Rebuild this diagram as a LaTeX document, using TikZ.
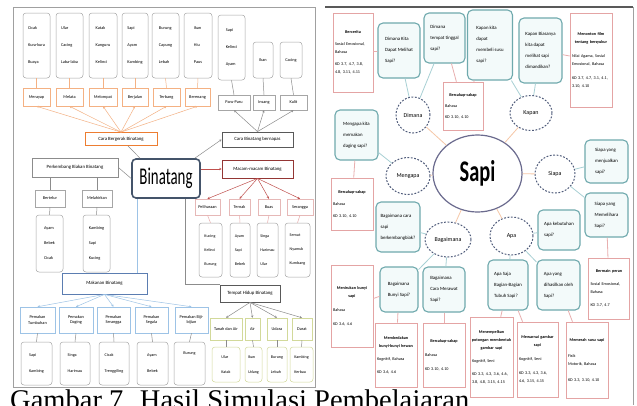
\documentclass[tikz,border=0pt]{standalone}
\usepackage{fontspec}
\usepackage{graphicx}
\setmainfont{Carlito}
\newfontfamily\capfont{Liberation Serif}
\usetikzlibrary{arrows.meta,shapes.geometric}
\definecolor{exgray}{HTML}{A6A6A6}
\definecolor{lblor}{HTML}{F4B183}
\definecolor{cbor}{HTML}{ED7D31}
\definecolor{dkgray}{HTML}{595959}
\definecolor{maroonc}{HTML}{943634}
\definecolor{pinkl}{HTML}{E6B8B7}
\definecolor{binblue}{HTML}{44546A}
\definecolor{mkblue}{HTML}{5B7DB1}
\definecolor{pmblue}{HTML}{9DC3E6}
\definecolor{tsub}{HTML}{D2D99A}
\definecolor{framec}{HTML}{A0A0A0}
\definecolor{qteal}{HTML}{6FA9AD}
\definecolor{qfill}{HTML}{F3FAFA}
\definecolor{actpink}{HTML}{E4A4A4}
\definecolor{ellc}{HTML}{4F5B7A}
\definecolor{sapic}{HTML}{6B6B8E}
\definecolor{lnpeach}{HTML}{F6C7A7}
\definecolor{lnteal}{HTML}{A8D0D4}
\definecolor{lnpink}{HTML}{E8AFAF}
\definecolor{lnred}{HTML}{C0504D}
\definecolor{lngray}{HTML}{8C8C8C}
\definecolor{lnyel}{HTML}{C4BD97}
\newcommand\acttl[1]{\makebox[\linewidth][c]{\bfseries #1}}
\tikzset{
  base/.style={inner sep=1pt, align=left},
  exbox/.style={base, draw=exgray, rounded corners=3pt, line width=0.5pt},
  lbl/.style={inner sep=1pt, align=center, line width=0.5pt, font=\fontsize{4.3}{5.2}\selectfont},
  tip/.style={-{Stealth[length=2.4pt,width=2.4pt]}},
  qbox/.style={draw=qteal, fill=qfill, line width=1.1pt, rounded corners=5pt, inner sep=2pt, align=left, font=\fontsize{4.8}{11}\selectfont},
  actbox/.style={draw=actpink, line width=0.6pt, inner sep=2pt, align=left, font=\fontsize{4.2}{8}\selectfont},
  ell/.style={ellipse, draw=ellc, line width=1pt, dash pattern=on 1.8pt off 1.6pt, inner sep=0pt, font=\fontsize{6}{7}\selectfont},
}
\begin{document}
\begin{tikzpicture}[x=1pt,y=-1pt]
\useasboundingbox (0,0) rectangle (637,405);
\clip (0,0) rectangle (637,405);
\fill[white] (0,0) rectangle (637,405);

% ================= LEFT PANEL =================
\draw[framec, line width=0.8pt] (13,7) rectangle (315,387);

% top example boxes
\begin{scope}[every node/.append style={font=\fontsize{4.3}{17}\selectfont}]
\node[exbox, minimum width=27, minimum height=65] (ex1) at (36.5,45.5) {Cicak\\Kura-kura\\Buaya};
\node[exbox, minimum width=27, minimum height=65] (ex2) at (69.5,45.5) {Ular\\Cacing\\Laba-laba};
\node[exbox, minimum width=28, minimum height=65] (ex3) at (103,45.5) {Katak\\Kanguru\\Kelinci};
\node[exbox, minimum width=26, minimum height=65] (ex4) at (135,45.5) {Sapi\\Ayam\\Kambing};
\node[exbox, minimum width=27, minimum height=65] (ex5) at (165.5,45.5) {Burung\\Capung\\Lebah};
\node[exbox, minimum width=28, minimum height=65] (ex6) at (198,45.5) {Ikan\\Hiu\\Paus};
\node[exbox, minimum width=27, minimum height=65] (ex7) at (231.5,47.5) {Sapi\\Kelinci\\Ayam};
\end{scope}
\node[exbox, minimum width=20, minimum height=36, font=\fontsize{4.3}{5}\selectfont] (ex8) at (263,60) {Ikan};
\node[exbox, minimum width=22, minimum height=36, font=\fontsize{4.3}{5}\selectfont] (ex9) at (291,60) {Cacing};

% movement labels
\node[lbl, draw=lblor, minimum width=27, minimum height=18] (l1) at (36.5,97) {Merayap};
\node[lbl, draw=lblor, minimum width=27, minimum height=18] (l2) at (69.5,97) {Melata};
\node[lbl, draw=lblor, minimum width=28, minimum height=18] (l3) at (103,97) {Melompat};
\node[lbl, draw=lblor, minimum width=26, minimum height=18] (l4) at (135,97) {Berjalan};
\node[lbl, draw=lblor, minimum width=27, minimum height=18] (l5) at (166.5,97) {Terbang};
\node[lbl, draw=lblor, minimum width=25, minimum height=18] (l6) at (197.5,97) {Berenang};
% breathing labels
\node[lbl, draw=exgray, minimum width=32, minimum height=15] (l7) at (234,102.5) {Paru-Paru};
\node[lbl, draw=exgray, minimum width=22, minimum height=15] (l8) at (264,102.5) {Insang};
\node[lbl, draw=exgray, minimum width=27, minimum height=15] (l9) at (293.5,102.5) {Kulit};

% main category boxes
\node[lbl, draw=cbor, line width=0.8pt, minimum width=72, minimum height=13, font=\fontsize{4.8}{5.5}\selectfont] (cb) at (121,139) {Cara Bergerak Binatang};
\node[lbl, draw=dkgray, line width=0.8pt, minimum width=71, minimum height=15, font=\fontsize{4.8}{5.5}\selectfont] (cn) at (257.5,139.5) {Cara Binatang bernapas};
\node[lbl, draw=maroonc, line width=0.8pt, minimum width=71, minimum height=18, font=\fontsize{4.8}{5.5}\selectfont] (mm) at (257.5,169) {Macam-macam Binatang};
\node[lbl, draw=lngray, line width=0.8pt, minimum width=86, minimum height=19, font=\fontsize{4.8}{5.5}\selectfont] (pk) at (75,167.5) {Perkembang Biakan Binatang};
\node[lbl, draw=binblue, line width=1.6pt, rounded corners=4pt, minimum width=68, minimum height=39, font=\fontsize{24}{26}\selectfont] (bin) at (166,178.5) {\scalebox{0.62}[1]{Binatang}};

% reproduction
\node[lbl, draw=exgray, minimum width=30, minimum height=17] (bt) at (50,198.5) {Bertelur};
\node[lbl, draw=exgray, minimum width=30, minimum height=17] (ml) at (97,198.5) {Melahirkan};
\node[exbox, minimum width=27, minimum height=57, font=\fontsize{4.3}{15}\selectfont] (ex10) at (49.5,243.5) {Ayam\\Bebek\\Cicak};
\node[exbox, minimum width=27, minimum height=57, font=\fontsize{4.3}{15}\selectfont] (ex11) at (96.5,243.5) {Kambing\\Sapi\\Kucing};

% kinds
\node[lbl, draw=pinkl, minimum width=25, minimum height=16] (s1) at (207.5,207) {Peliharaan};
\node[lbl, draw=pinkl, minimum width=21, minimum height=16] (s2) at (239.5,207) {Ternak};
\node[lbl, draw=pinkl, minimum width=22, minimum height=16] (s3) at (269,207) {Buas};
\node[lbl, draw=pinkl, minimum width=26, minimum height=16] (s4) at (300,207) {Serangga};
\begin{scope}[every node/.append style={font=\fontsize{4.1}{14}\selectfont}]
\node[exbox, minimum width=23, minimum height=54] (ex12) at (210.5,250) {Kucing\\Kelinci\\Burung};
\node[exbox, minimum width=20, minimum height=54] (ex13) at (240,250) {Ayam\\Sapi\\Bebek};
\node[exbox, minimum width=21, minimum height=54] (ex14) at (267.5,250) {Singa\\Harimau\\Ular};
\node[exbox, minimum width=25, minimum height=54] (ex15) at (297.5,250) {Semut\\Nyamuk\\Kumbang};
\end{scope}

% food
\node[lbl, draw=mkblue, line width=0.8pt, minimum width=85, minimum height=21, font=\fontsize{4.8}{5.5}\selectfont] (mk) at (104.5,283.5) {Makanan Binatang};
\begin{scope}[every node/.append style={font=\fontsize{4.2}{8}\selectfont}]
\node[lbl, draw=pmblue, minimum width=35, minimum height=26] (p1) at (37.5,320) {Pemakan\\Tumbuhan};
\node[lbl, draw=pmblue, minimum width=34, minimum height=26] (p2) at (76,320) {Pemakan\\Daging};
\node[lbl, draw=pmblue, minimum width=33, minimum height=26] (p3) at (113.5,320) {Pemakan\\Serangga};
\node[lbl, draw=pmblue, minimum width=33, minimum height=26] (p4) at (151.5,320) {Pemakan\\Segala};
\node[lbl, draw=pmblue, minimum width=33, minimum height=26] (p5) at (191.5,320) {Pemakan Biji-\\bijian};
\end{scope}
\begin{scope}[every node/.append style={font=\fontsize{4.2}{16}\selectfont}]
\node[exbox, minimum width=31, minimum height=43] (ex16) at (36.5,363.5) {Sapi\\Kambing};
\node[exbox, minimum width=30, minimum height=43] (ex17) at (75,363.5) {Singa\\Harimau};
\node[exbox, minimum width=30, minimum height=43] (ex18) at (114,363.5) {Cicak\\Trenggiling};
\node[exbox, minimum width=31, minimum height=43] (ex19) at (152.5,363.5) {Ayam\\Bebek};
\node[exbox, minimum width=31, minimum height=43] (ex20) at (189.5,363.5) {Burung\\\strut};
\end{scope}

% habitat
\node[lbl, draw=dkgray, line width=0.8pt, minimum width=60, minimum height=17, font=\fontsize{4.8}{5.5}\selectfont] (th) at (250,293.5) {Tempat Hidup Binatang};
\node[lbl, draw=tsub, minimum width=32, minimum height=22] (t1) at (226,329) {Tanah dan Air};
\node[lbl, draw=tsub, minimum width=15, minimum height=22] (t2) at (252.5,329) {Air};
\node[lbl, draw=tsub, minimum width=20, minimum height=22] (t3) at (277,329) {Udara};
\node[lbl, draw=tsub, minimum width=20, minimum height=22] (t4) at (302,329) {Darat};
\begin{scope}[every node/.append style={font=\fontsize{4.1}{15}\selectfont}]
\node[exbox, draw=tsub, minimum width=28, minimum height=35] (ex21) at (226,364.5) {Ular\\Katak};
\node[exbox, draw=tsub, minimum width=17, minimum height=35] (ex22) at (253.5,364.5) {Ikan\\Udang};
\node[exbox, draw=tsub, minimum width=20, minimum height=35] (ex23) at (277,364.5) {Burung\\Lebah};
\node[exbox, draw=tsub, minimum width=23, minimum height=35] (ex24) at (301.5,364.5) {Kambing\\Kerbau};
\end{scope}

% left connectors
\foreach \n in {1,...,6} {
  \draw[lblor, line width=0.5pt, tip] (cb.north) -- (l\n.south);
  \draw[lblor, line width=0.5pt] (l\n.north) -- (ex\n.south);
}
\foreach \a/\b in {7/7,8/8,9/9} {
  \draw[lngray, line width=0.5pt, tip] (cn.north) -- (l\a.south);
  \draw[lngray, line width=0.5pt] (l\a.north) -- (ex\b.south);
}
\draw[lngray, line width=0.5pt] ([xshift=-26pt]bin.north) -- ([xshift=7pt]cb.south);
\draw[lngray, line width=0.5pt, tip] ([xshift=-6pt]bin.north east) -- (cn.west);
\draw[lnred, line width=0.5pt, tip] (bin.east |- mm.west) -- (mm.west);
\draw[lngray, line width=0.5pt] (bin.west) -- (pk.east);
\draw[lngray, line width=0.5pt] (bt.north |- pk.south) -- (bt.north);
\draw[lngray, line width=0.5pt] (ml.north |- pk.south) -- (ml.north);
\draw[lngray, line width=0.5pt] (bt.south) -- (ex10.north);
\draw[lngray, line width=0.5pt] (ml.south) -- (ex11.north);
\foreach \a/\b in {1/12,2/13,3/14,4/15} {
  \draw[lnred, line width=0.5pt, tip] (mm.south) -- (s\a.north);
  \draw[lnpink, line width=0.5pt] (s\a.south) -- (ex\b.north);
}
\draw[pmblue, line width=0.6pt] ([xshift=-29pt]bin.south) -- ([xshift=-29pt]bin.south |- mk.north);
\draw[lngray, line width=0.5pt] ([xshift=19pt]bin.south) |- (th.north west);
\foreach \a/\b in {1/16,2/17,3/18,4/19,5/20} {
  \draw[pmblue, line width=0.5pt, tip] (mk.south) -- (p\a.north);
  \draw[lngray, line width=0.5pt] (p\a.south) -- (ex\b.north);
}
\foreach \a/\b in {1/21,2/22,3/23,4/24} {
  \draw[lngray, line width=0.5pt, tip] (th.south) -- (t\a.north);
  \draw[lngray, line width=0.5pt] (t\a.south) -- (ex\b.north);
}

% ================= RIGHT PANEL =================
\draw[dkgray, line width=1.8pt] (325,7) -- (633,7);
\draw[framec, line width=0.6pt] (633,7) -- (633,405);

\node[ellipse, draw=sapic, line width=1.2pt, minimum width=89, minimum height=77, inner sep=0pt, font=\fontsize{30}{32}\selectfont\bfseries] (sapi) at (477.5,173.5) {\scalebox{0.68}[1]{Sapi}};

\node[ell, minimum width=34, minimum height=36] (eDim) at (413,115) {Dimana};
\node[ell, minimum width=42, minimum height=35] (eKap) at (531,113) {Kapan};
\node[ell, minimum width=44, minimum height=37] (eMen) at (408,176) {Mengapa};
\node[ell, minimum width=40, minimum height=38] (eSia) at (555,174) {Siapa};
\node[ell, minimum width=46, minimum height=35] (eBag) at (448,239.5) {Bagaimana};
\node[ell, minimum width=43, minimum height=38] (eApa) at (511.5,236) {Apa};

% question boxes
\node[qbox, minimum width=42, minimum height=55] (qDim1) at (399,50.5) {Dimana Kita\\Dapat Melihat\\Sapi?};
\node[qbox, minimum width=41, minimum height=50] (qDim2) at (444.5,38) {Dimana\\tempat tinggal\\sapi?};
\node[qbox, minimum width=45, minimum height=70] (qKap1) at (490,45) {Kapan kita\\dapat\\membeli susu\\sapi?};
\node[qbox, minimum width=43, minimum height=65] (qKap2) at (540.5,50.5) {Kapan Biasanya\\kita dapat\\melihat sapi\\dimandikan?};
\node[qbox, minimum width=43, minimum height=50] (qMen) at (356.5,135) {Mengapa kita\\memakan\\daging sapi?};
\node[qbox, minimum width=44, minimum height=50] (qBag1) at (398,227) {Bagaimana cara\\sapi\\berkembangbiak?};
\node[qbox, minimum width=43, minimum height=43] (qSia1) at (606.5,161.5) {Siapa yang\\menjualkan\\sapi?};
\node[qbox, minimum width=43, minimum height=44] (qSia2) at (606.5,215) {Siapa yang\\Memelihara\\Sapi?};
\node[qbox, minimum width=42, minimum height=40] (qApa1) at (559,230) {Apa kebutuhan\\sapi?};
\node[qbox, minimum width=38, minimum height=45] (qBag2) at (399,289.5) {Bagaimana\\Bunyi Sapi?};
\node[qbox, minimum width=42, minimum height=45] (qBag3) at (444,289.5) {Bagaimana\\Cara Merawat\\Sapi?};
\node[qbox, minimum width=40, minimum height=50] (qApa2) at (508,285) {Apa Saja\\Bagian-Bagian\\Tubuh Sapi?};
\node[qbox, minimum width=43, minimum height=50] (qApa3) at (558.5,285) {Apa yang\\dihasilkan oleh\\Sapi?};

% activity boxes
\node[actbox, text width=36pt, minimum height=79] (aCer) at (353,52.5) {\acttl{Bercerita}\\[4pt]Sosial Emosional,\\Bahasa\\[4pt]KD 3.7, 4.7, 3.8,\\4.8, 3.11, 4.11};
\node[actbox, text width=36pt, minimum height=48] (aDim) at (463,106) {\acttl{Bercakap-cakap}\\[3pt]Bahasa\\[3pt]KD 3.10, 4.10};
\node[actbox, text width=38pt, minimum height=94] (aKap) at (591,60) {\acttl{Menonton film}\\\acttl{tentang bersyukur}\\[6pt]Nilai Agama, Sosial\\Emosional, Bahasa\\[6pt]KD 3.7, 4.7, 3.1, 4.1,\\3.10, 4.10};
\node[actbox, text width=38pt, minimum height=52] (aMen) at (352,204) {\acttl{Bercakap-cakap}\\[4pt]Bahasa\\[4pt]KD 3.10, 4.10};
\node[actbox, text width=38pt, minimum height=82] (aBag0) at (352,306) {\acttl{Menirukan bunyi}\\\acttl{sapi}\\[6pt]Bahasa\\[6pt]KD 3.6, 4.6};
\node[actbox, text width=38pt, minimum height=64] (aBag2) at (396,355) {\acttl{Membedakan}\\\acttl{bunyi-bunyi hewan}\\[5pt]Kognitif, Bahasa\\[5pt]KD 3.6, 4.6};
\node[actbox, text width=38pt, minimum height=64] (aBag3) at (444,355) {\acttl{Bercakap-cakap}\\[6pt]Bahasa\\[6pt]KD 3.10, 4.10};
\node[actbox, text width=37pt, minimum height=61] (aSia) at (609,288.5) {\acttl{Bermain peran}\\[5pt]Sosial Emosional,\\Bahasa\\[5pt]KD 3.7, 4.7};
\node[actbox, text width=39pt, minimum height=80] (aApa2a) at (491.5,357) {\acttl{Menempelkan}\\\acttl{potongan membentuk}\\\acttl{gambar sapi}\\[5pt]Kognitif, Seni\\[5pt]KD 3.3, 4.3, 3.6, 4.6,\\3.8, 4.8, 3.15, 4.15};
\node[actbox, text width=37pt, minimum height=75] (aApa2b) at (537.5,359.5) {\acttl{Mewarnai gambar}\\\acttl{sapi}\\[6pt]Kognitif, Seni\\[6pt]KD 3.3, 4.3, 3.6,\\4.6, 3.15, 4.15};
\node[actbox, text width=38pt, minimum height=76] (aApa3) at (587,360) {\acttl{Memerah susu sapi}\\[8pt]Fisik\\Motorik, Bahasa\\[8pt]KD 3.3, 3.10, 4.10};

% right connectors
\foreach \e in {eDim,eKap,eMen,eSia,eBag,eApa}
  \draw[lnpeach, line width=0.8pt] (sapi) -- (\e);
\foreach \e/\q in {eDim/qDim1,eDim/qDim2,eKap/qKap1,eKap/qKap2,eMen/qMen,eSia/qSia1,eSia/qSia2,eBag/qBag1,eBag/qBag2,eBag/qBag3,eApa/qApa1,eApa/qApa2,eApa/qApa3}
  \draw[lnteal, line width=0.8pt] (\e) -- (\q);
\foreach \q/\a in {qDim1/aCer,qDim2/aDim,qKap1/aDim,qKap2/aKap,qMen/aMen,qSia2/aSia,qBag2/aBag0,qBag2/aBag2,qBag3/aBag3,qApa2/aApa2a,qApa2/aApa2b,qApa3/aApa3}
  \draw[lnpink, line width=0.8pt] (\q) -- (\a);

% caption
\node[anchor=base west, inner sep=0pt, font=\capfont\fontsize{28.5}{30}\selectfont] (cap) at (10,409) {Gambar 7. Hasil Simulasi Pembelajaran};
\end{tikzpicture}
\end{document}
